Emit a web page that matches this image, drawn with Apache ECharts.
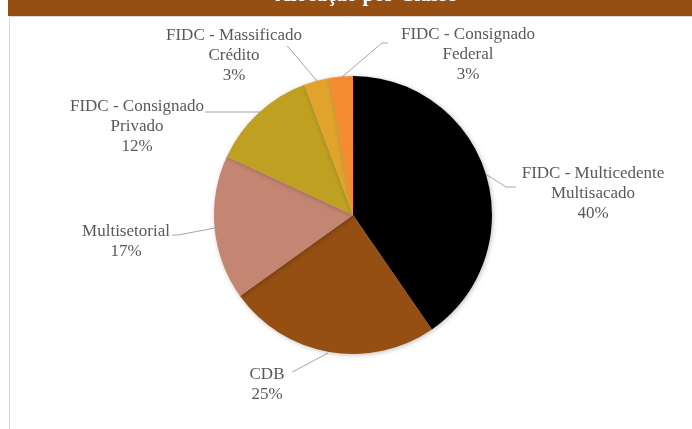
<!DOCTYPE html>
<html>
<head>
<meta charset="utf-8">
<style>html,body{margin:0;padding:0;background:#fff;}#chart{width:692px;height:429px;}</style>
<script src="https://cdn.jsdelivr.net/npm/echarts@6/dist/echarts.min.js"></script>
</head>
<body>
<div id="chart"></div>
<script>
const titleText = 'Alocação por Classe';
const categories = [
  'FIDC - Multicedente\nMultisacado',
  'CDB',
  'Multisetorial',
  'FIDC - Consignado\nPrivado',
  'FIDC - Massificado\nCrédito',
  'FIDC - Consignado\nFederal'
];
const values = [40.4, 24.7, 16.8, 12.4, 3.0, 2.7];
const pctLabels = ['40%', '25%', '17%', '12%', '3%', '3%'];
const colors = ['#000000', '#954F12', '#C58573', '#C0A020', '#E0A42C', '#F58B30'];

// label layout (positions of label text blocks and their leader lines)
const labelPos = [[593, 194], [267, 385], [126, 242], [137, 127], [234, 56], [468, 55]];
const leaderLines = [
  [[487, 175], [506, 187], [516, 187]],
  [[328, 353], [300, 368], [292, 372]],
  [[215, 228], [178, 235], [172, 235]],
  [[260, 112], [230, 112], [205, 112]],
  [[317, 81], [290, 49], [287, 46]],
  [[342, 77], [382, 43], [388, 43]]
];

const chart = echarts.init(document.getElementById('chart'), null, {renderer: 'canvas'});
chart.setOption({
  animation: false,
  backgroundColor: '#ffffff',
  graphic: [
    {type: 'rect', shape: {x: 9.5, y: 16.5, width: 700, height: 430}, style: {fill: '#fff', stroke: '#D9D9D9', lineWidth: 1}, z: 0},
    {type: 'rect', shape: {x: 8, y: 0, width: 684, height: 16}, style: {fill: '#954F12'}, z: 1},
    {type: 'text', x: 366, y: 6, style: {text: titleText, fill: '#ffffff', font: 'bold 21px "Liberation Serif", serif', align: 'center', verticalAlign: 'bottom'}, z: 2}
  ],
  series: [{
    type: 'pie',
    center: [353, 215],
    radius: 139,
    startAngle: 90,
    clockwise: true,
    avoidLabelOverlap: false,
    data: categories.map((c, i) => ({name: c, value: values[i], itemStyle: {color: colors[i]}})),
    itemStyle: {shadowBlur: 5, shadowColor: 'rgba(0,0,0,0.25)', shadowOffsetX: 1, shadowOffsetY: 1},
    emphasis: {disabled: true},
    label: {
      show: true,
      formatter: p => p.name + '\n' + pctLabels[p.dataIndex],
      color: '#595959',
      fontFamily: '"Liberation Serif", serif',
      fontSize: 17,
      lineHeight: 20,
      align: 'center'
    },
    labelLine: {show: true, length: 15, length2: 10, lineStyle: {color: '#A6A6A6', width: 1}},
    labelLayout: function (params) {
      const i = params.dataIndex;
      const p = labelPos[i];
      return {x: p[0], y: p[1], align: 'center', verticalAlign: 'middle', labelLinePoints: leaderLines[i]};
    }
  }]
});
</script>
</body>
</html>
